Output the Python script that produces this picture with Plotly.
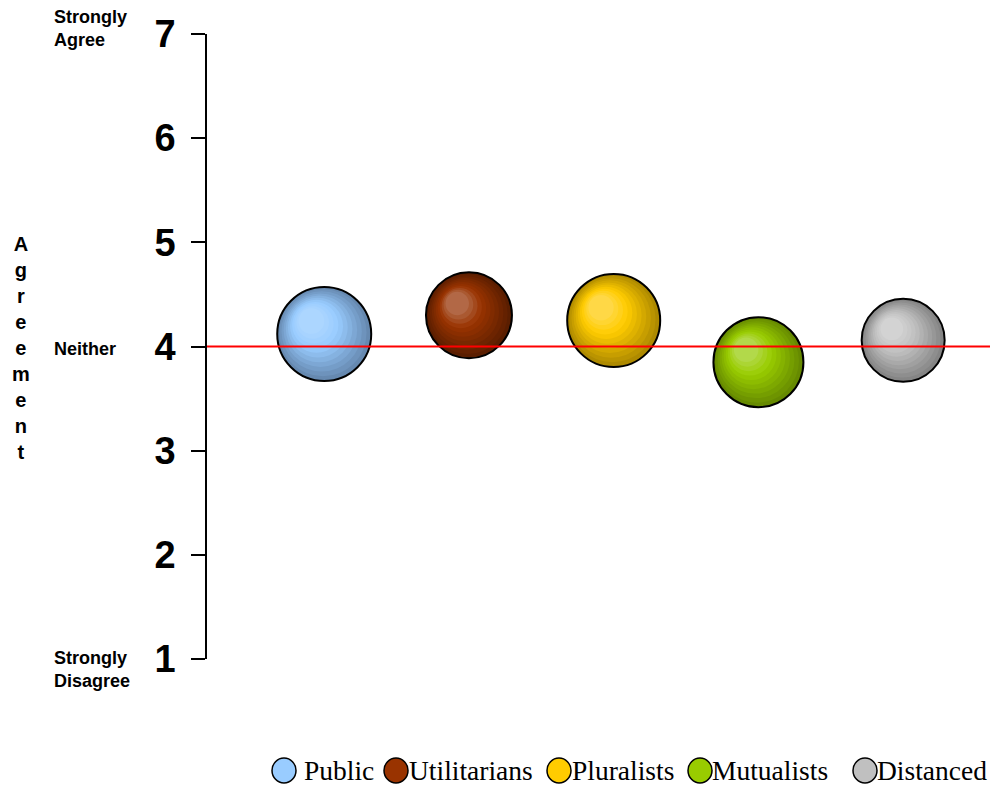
import plotly.graph_objects as go

# ---- data -------------------------------------------------------------
groups = ["Public", "Utilitarians", "Pluralists", "Mutualists", "Distanced"]
agreement = [4.12, 4.30, 4.25, 3.85, 4.06]          # mean agreement (1-7 scale)
bubble_size = [94, 86, 93, 90, 83]                   # bubble diameter
scale_ticks = [1, 2, 3, 4, 5, 6, 7]
scale_labels = {7: "Strongly<br>Agree", 4: "Neither", 1: "Strongly<br>Disagree"}

# ---- styling ------------------------------------------------------------
base_colors = ["#99ccff", "#993300", "#ffcc00", "#99cc00", "#c0c0c0"]
edge_colors = ["#6689b0", "#5a1e00", "#ae8a00", "#668a00", "#858585"]
glow_colors = ["#b2d9ff", "#b9785a", "#ffdc5a", "#badd60", "#d8d8d8"]

W, H = 990, 791
M_L, M_R, M_T, M_B = 207, 0, 34, 132
PLOT_W, PLOT_H = W - M_L - M_R, H - M_T - M_B
X_RANGE = [0.19, 5.6]
Y_RANGE = [1, 7]
x_per_px = (X_RANGE[1] - X_RANGE[0]) / PLOT_W
y_per_px = (Y_RANGE[1] - Y_RANGE[0]) / PLOT_H


def hex_rgb(h):
    h = h.lstrip("#")
    return tuple(int(h[i:i + 2], 16) for i in (0, 2, 4))


def mix(c1, c2, t):
    a, b = hex_rgb(c1), hex_rgb(c2)
    return "rgb({},{},{})".format(*[round(a[i] + (b[i] - a[i]) * t) for i in range(3)])


def shade(i, t):
    # edge -> base colour -> highlight as t goes from rim to centre
    if t <= 0.6:
        return mix(edge_colors[i], base_colors[i], t / 0.6)
    return mix(base_colors[i], glow_colors[i], (t - 0.6) / 0.4)


fig = go.Figure()

# Spheres: stacked rings shrinking towards an upper-left highlight
N_RINGS = 11
xs = list(range(1, len(groups) + 1))
for k in range(N_RINGS):
    t = k / N_RINGS
    sizes, px, py, cols = [], [], [], []
    for i, (x, y, d) in enumerate(zip(xs, agreement, bubble_size)):
        r = d / 2
        off = 0.3 * r * t
        sizes.append(d * (1 - 0.8 * t))
        px.append(x - off * x_per_px)
        py.append(y + off * y_per_px)
        cols.append(shade(i, t))
    fig.add_trace(go.Scatter(
        x=px, y=py, mode="markers",
        marker=dict(size=sizes, color=cols, opacity=1,
                    line=dict(color="black", width=2 if k == 0 else 0)),
        hoverinfo="skip" if k else "text",
        text=[f"{g}: {v:.2f}" for g, v in zip(groups, agreement)],
        showlegend=False,
    ))

# Neutral reference line
fig.add_shape(type="line", xref="paper", x0=0, x1=1, yref="y", y0=4, y1=4,
              line=dict(color="#ff0000", width=2.2), layer="above")

# Scale anchor captions left of the axis
shifts = {7: 6, 4: -2, 1: -10}
for v, txt in scale_labels.items():
    fig.add_annotation(text=txt, xref="paper", x=(52 - M_L) / PLOT_W, xanchor="left",
                       yref="y", y=v, yshift=shifts[v], yanchor="middle",
                       align="left", showarrow=False,
                       font=dict(family="Liberation Sans, Arial", size=18,
                                 color="black", weight="bold"))

# Vertical axis title, one letter per line
fig.add_annotation(text="<br>".join("Agreement"), xref="paper", x=(21 - M_L) / PLOT_W,
                   xanchor="center", yref="y", y=4, yanchor="middle", yshift=-1,
                   align="center", showarrow=False,
                   font=dict(family="Liberation Sans, Arial", size=20,
                             color="black", weight="bold"))

# Legend row
leg_circle_px = [284, 396, 559, 700, 865]
leg_text_px = [302, 407, 570, 710, 875]
leg_y = -(770.5 - (H - M_B)) / PLOT_H
for i, g in enumerate(groups):
    fig.add_shape(type="circle", xref="paper", yref="paper",
                  xsizemode="pixel", ysizemode="pixel",
                  xanchor=(leg_circle_px[i] - M_L) / PLOT_W, yanchor=leg_y,
                  x0=-12, x1=12, y0=-12.5, y1=12.5,
                  fillcolor=base_colors[i], line=dict(color="black", width=1.5))
    fig.add_annotation(text=g, xref="paper", yref="paper",
                       x=(leg_text_px[i] - M_L) / PLOT_W, y=leg_y,
                       xanchor="left", yanchor="middle", showarrow=False,
                       font=dict(family="Liberation Serif, Times New Roman",
                                 size=27.5, color="black"))

fig.update_xaxes(range=X_RANGE, visible=False, showgrid=False, zeroline=False)
fig.update_yaxes(range=Y_RANGE, tickvals=scale_ticks, ticktext=[str(v) for v in scale_ticks],
                 showline=True, linecolor="black", linewidth=1.5,
                 ticks="outside", ticklen=14, tickwidth=1.5, tickcolor="black",
                 ticklabelstandoff=8,
                 tickfont=dict(family="Liberation Sans, Arial", size=38,
                               color="black", weight="bold"),
                 showgrid=False, zeroline=False)

fig.update_layout(width=W, height=H, autosize=False,
                  margin=dict(l=M_L, r=M_R, t=M_T, b=M_B, pad=0),
                  plot_bgcolor="white", paper_bgcolor="white",
                  showlegend=False)

fig.write_html("out.html")
